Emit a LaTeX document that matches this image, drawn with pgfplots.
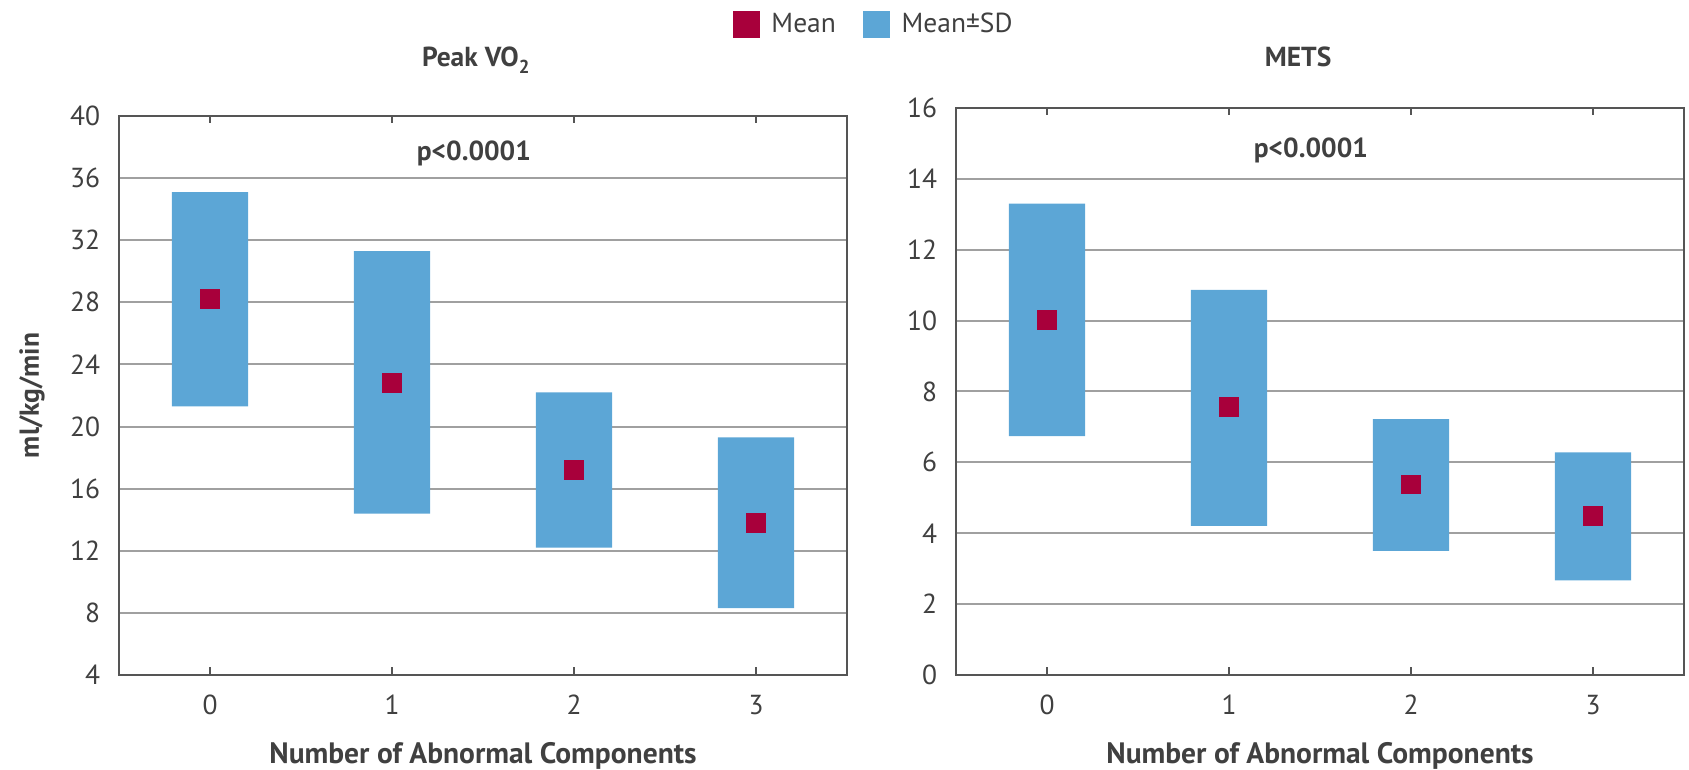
\documentclass[border=0pt]{standalone}
\usepackage{fontspec}
\setmainfont{PT Sans}
\usepackage{pgfplots}
\usepackage{pgfplotstable}
\pgfplotsset{compat=1.18}
\definecolor{meanred}{HTML}{A8003B}
\definecolor{sdblue}{HTML}{5CA6D6}
\definecolor{txt}{HTML}{404040}
\definecolor{gridc}{HTML}{A0A0A0}
\definecolor{axc}{HTML}{555555}

\pgfplotstableread{
x lo hi mean
0 21.3 35.1 28.2
1 14.4 31.3 22.8
2 12.2 22.2 17.2
3 8.3 19.3 13.8
}\vo
\pgfplotstableread{
x lo hi mean
0 6.74 13.3 10.02
1 4.21 10.87 7.56
2 3.5 7.22 5.37
3 2.67 6.28 4.49
}\mets

\pgfplotsset{
  panel/.style={
    scale only axis, width=291.2pt,
    xmin=-0.5, xmax=3.5, xtick={0,1,2,3},
    xtick pos=both, ytick pos=left,
    tick align=inside, major tick length=3pt,
    ytick style={draw=none},
    axis line style={axc, line width=0.8pt},
    tick style={axc, line width=0.8pt},
    ymajorgrids, major grid style={gridc, line width=0.8pt},
    ybar stacked, bar width=0.42,
    /pgf/number format/assume math mode=true,
    tick label style={text=txt, font=\fontsize{11}{13}\selectfont},
    xticklabel style={anchor=base, yshift=-15.9pt},
    yticklabel style={anchor=east, inner sep=0pt, xshift=-7.4pt},
    label style={text=txt, font=\bfseries\fontsize{11}{13}\selectfont},
    xlabel={Number of Abnormal Components},
    xlabel style={at={(axis description cs:0.5,0)}, anchor=base, yshift=-35.5pt,
      font=\bfseries\fontsize{11.8}{13}\selectfont},
    title style={text=txt, font=\bfseries\fontsize{11}{13}\selectfont, anchor=base},
  },
  sdbar/.style={draw=none, fill=sdblue},
  meanpt/.style={only marks, mark=square*, mark size=3.7pt, color=meanred, stack plots=false},
}

\begin{document}
\begin{tikzpicture}
\useasboundingbox (0,0) rectangle (675.6pt,308pt);
\begin{axis}[panel, at={(47.6pt,38pt)}, anchor=south west, height=223.6pt,
  ymin=4, ymax=40, ytick={4,8,...,40},
  ylabel={ml/kg/min},
  ylabel style={at={(axis description cs:-0.1195,0.5)}, anchor=center},
  title={Peak VO\raisebox{-2.7pt}{\fontsize{7.5}{8}\selectfont 2}},
  title style={at={(axis description cs:0.49,1)}, yshift=13.8pt},
  legend style={at={(1.039,1.163)}, anchor=center, draw=none, fill=none,
    legend columns=2, font=\fontsize{11}{13}\selectfont, text=txt,
    /tikz/every odd column/.append style={column sep=2.5pt},
    /tikz/every even column/.append style={column sep=9pt}},
]
\addlegendimage{legend image code/.code={\fill[meanred] (0pt,-5.2pt) rectangle (10.4pt,5.2pt);}}
\addlegendimage{legend image code/.code={\fill[sdblue] (0pt,-5.2pt) rectangle (10.4pt,5.2pt);}}
\legend{Mean, Mean±SD}
\addplot[draw=none, fill=none] table[x=x, y=lo] {\vo};
\addplot[sdbar] table[x=x, y expr=\thisrow{hi}-\thisrow{lo}] {\vo};
\addplot[meanpt] table[x=x, y=mean] {\vo};
\node[text=txt, font=\bfseries\fontsize{11}{13}\selectfont] at (axis cs:1.45,37.6) {p<0.0001};
\end{axis}
\begin{axis}[panel, at={(382.4pt,38pt)}, anchor=south west, height=226.8pt,
  ymin=0, ymax=16, ytick={0,2,...,16},
  title={METS},
  title style={at={(axis description cs:0.47,1)}, yshift=10.6pt},
]
\addplot[draw=none, fill=none] table[x=x, y=lo] {\mets};
\addplot[sdbar] table[x=x, y expr=\thisrow{hi}-\thisrow{lo}] {\mets};
\addplot[meanpt] table[x=x, y=mean] {\mets};
\node[text=txt, font=\bfseries\fontsize{11}{13}\selectfont] at (axis cs:1.45,14.8) {p<0.0001};
\end{axis}
\end{tikzpicture}
\end{document}
